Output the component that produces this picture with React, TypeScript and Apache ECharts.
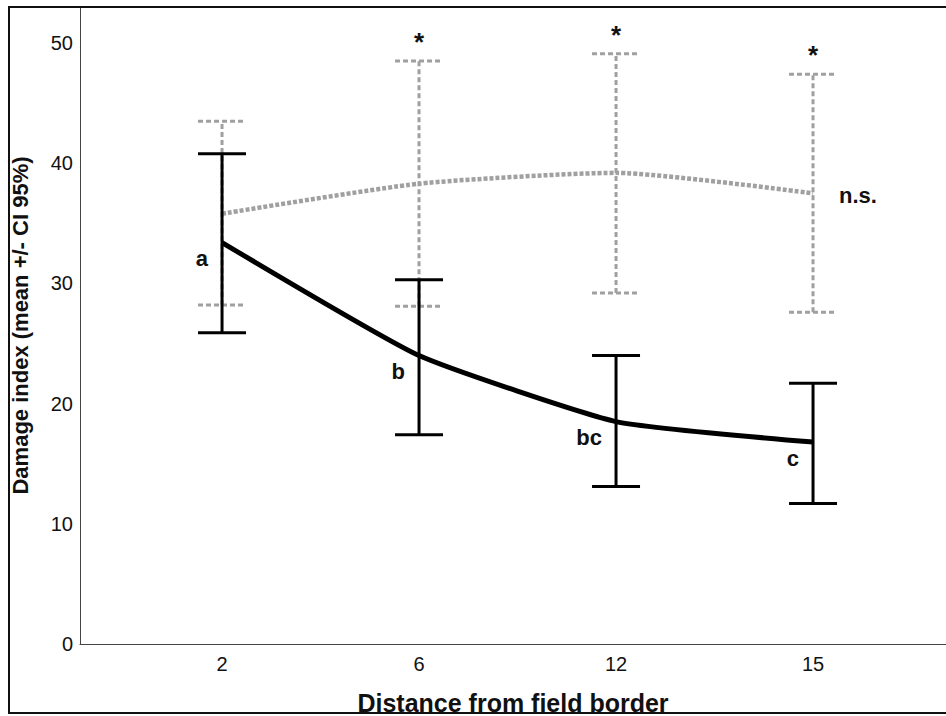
import React, { useEffect, useRef } from "react";
import * as echarts from "echarts";

const categories = ["2", "6", "12", "15"];
const cropMean = [33.4, 24.0, 18.5, 16.8];
const cropLower = [25.9, 17.4, 13.1, 11.7];
const cropUpper = [40.8, 30.3, 24.0, 21.7];
const borderMean = [35.8, 38.3, 39.2, 37.5];
const borderLower = [28.2, 28.1, 29.2, 27.6];
const borderUpper = [43.5, 48.5, 49.1, 47.4];
const letterLabels = ["a", "b", "bc", "c"];
const sigMarks = ["", "*", "*", "*"];
const grayEndLabel = "n.s.";
const yTicks = [0, 10, 20, 30, 40, 50];
const xTitle = "Distance from field border";
const yTitle = "Damage index (mean +/- CI 95%)";

const FONT = "'Liberation Sans', Arial, Helvetica, sans-serif";
const GRAY = "#a0a0a0";

function makeErrorRender(
  color: string,
  width: number,
  dash: number[] | null,
  marks: string[] | null,
  letters: string[] | null,
  endLabel: string | null
) {
  return (params: any, api: any) => {
    const x = api.value(0);
    const lo = api.coord([x, api.value(1)]);
    const hi = api.coord([x, api.value(2)]);
    const mid = api.coord([x, api.value(3)]);
    const half = 24;
    const style: any = { stroke: color, lineWidth: width, fill: null };
    if (dash) style.lineDash = dash;
    const children: any[] = [
      { type: "line", shape: { x1: lo[0], y1: lo[1], x2: hi[0], y2: hi[1] }, style },
      { type: "line", shape: { x1: lo[0] - half, y1: lo[1], x2: lo[0] + half, y2: lo[1] }, style },
      { type: "line", shape: { x1: hi[0] - half, y1: hi[1], x2: hi[0] + half, y2: hi[1] }, style },
    ];
    const idx = params.dataIndex;
    if (marks && marks[idx]) {
      children.push({
        type: "text",
        x: hi[0],
        y: hi[1] - 6,
        style: {
          text: marks[idx],
          fontSize: 26,
          fontWeight: "bold",
          fontFamily: FONT,
          fill: "#111",
          align: "center",
          verticalAlign: "bottom",
        },
      });
    }
    if (letters && letters[idx]) {
      children.push({
        type: "text",
        x: mid[0] - 14,
        y: mid[1] + 16,
        style: {
          text: letters[idx],
          fontSize: 22,
          fontWeight: "bold",
          fontFamily: FONT,
          fill: "#111",
          align: "right",
          verticalAlign: "middle",
        },
      });
    }
    if (endLabel && idx === params.dataInsideLength - 1) {
      children.push({
        type: "text",
        x: mid[0] + 26,
        y: mid[1] + 2,
        style: {
          text: endLabel,
          fontSize: 22,
          fontWeight: "bold",
          fontFamily: FONT,
          fill: "#111",
          align: "left",
          verticalAlign: "middle",
        },
      });
    }
    return { type: "group", children };
  };
}

export default function App() {
  const ref = useRef<HTMLDivElement>(null);

  useEffect(() => {
    document.body.style.margin = "0";
    if (!ref.current) return;
    const chart = echarts.init(ref.current, undefined, { renderer: "svg" });

    const grayBars = categories.map((_, i) => [i, borderLower[i], borderUpper[i], borderMean[i]]);
    const blackBars = categories.map((_, i) => [i, cropLower[i], cropUpper[i], cropMean[i]]);
    const grayLine = categories.map((_, i) => [i, borderMean[i]]);
    const blackLine = categories.map((_, i) => [i, cropMean[i]]);

    chart.setOption({
      animation: false,
      backgroundColor: "#ffffff",
      textStyle: { fontFamily: FONT },
      grid: {
        left: 80,
        right: 0,
        top: 7,
        bottom: 72,
        containLabel: false,
        outerBoundsMode: "none",
      },
      xAxis: {
        type: "value",
        min: -0.721,
        max: 3.675,
        axisLine: { show: true, onZero: false, lineStyle: { color: "#444", width: 1 } },
        axisTick: { show: false },
        splitLine: { show: false },
        axisLabel: {
          customValues: [0, 1, 2, 3],
          formatter: (v: number) => categories[Math.round(v)] ?? "",
          fontSize: 20,
          color: "#111",
          margin: 10,
          fontFamily: FONT,
        },
        name: xTitle,
        nameLocation: "middle",
        nameGap: 46,
        nameTextStyle: { fontSize: 25, fontWeight: "bold", color: "#111", fontFamily: FONT },
      },
      yAxis: {
        type: "value",
        min: 0,
        max: 53,
        interval: 10,
        axisLine: { show: true, onZero: false, lineStyle: { color: "#444", width: 1 } },
        axisTick: { show: false },
        splitLine: { show: false },
        axisLabel: {
          customValues: yTicks,
          fontSize: 20,
          color: "#111",
          margin: 7,
          fontFamily: FONT,
        },
        name: yTitle,
        nameLocation: "middle",
        nameGap: 49,
        nameTextStyle: { fontSize: 22, fontWeight: "bold", color: "#111", fontFamily: FONT },
      },
      series: [
        {
          type: "custom",
          name: "border-ci",
          z: 1,
          data: grayBars,
          encode: { x: 0, y: [1, 2] },
          renderItem: makeErrorRender(GRAY, 3, [5, 3], sigMarks, null, grayEndLabel),
          silent: true,
        },
        {
          type: "line",
          name: "border",
          z: 2,
          data: grayLine,
          smooth: 0.2,
          symbol: "none",
          lineStyle: { color: GRAY, width: 4.5, type: [4, 2] },
          silent: true,
        },
        {
          type: "custom",
          name: "crop-ci",
          z: 3,
          data: blackBars,
          encode: { x: 0, y: [1, 2] },
          renderItem: makeErrorRender("#000", 3, null, null, letterLabels, null),
          silent: true,
        },
        {
          type: "line",
          name: "crop",
          z: 4,
          data: blackLine,
          smooth: 0.15,
          symbol: "none",
          lineStyle: { color: "#000", width: 5 },
          silent: true,
        },
      ],
      graphic: [
        {
          type: "rect",
          silent: true,
          z: 100,
          shape: { x: 9, y: 7, width: 1000, height: 706 },
          style: { fill: "transparent", stroke: "#111", lineWidth: 2 },
        },
      ],
    });

    return () => {
      chart.dispose();
    };
  }, []);

  return <div ref={ref} style={{ width: 946, height: 716 }} />;
}
